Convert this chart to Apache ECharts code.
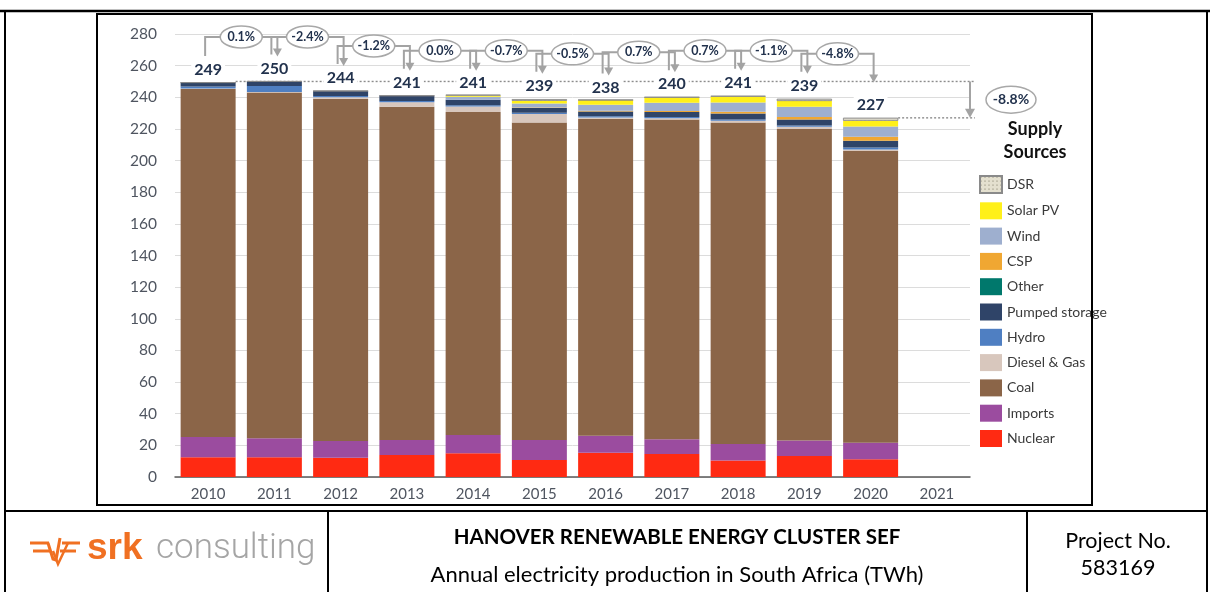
<!DOCTYPE html>
<html>
<head>
<meta charset="utf-8">
<script src="https://cdn.jsdelivr.net/npm/echarts@6/dist/echarts.min.js"></script>
<style>
  html, body { margin: 0; padding: 0; background: #fff; }
  #chart { width: 1210px; height: 592px; }
</style>
</head>
<body>
<div id="chart"></div>
<script>
// data (TWh)
const years = ['2010', '2011', '2012', '2013', '2014', '2015', '2016', '2017', '2018', '2019', '2020', '2021'];
const nuclear = [12.5, 12.5, 12.2, 13.9, 15.0, 10.8, 15.4, 14.6, 10.4, 13.3, 11.2, null];
const imports = [12.8, 12.0, 10.6, 9.5, 11.6, 12.6, 10.6, 9.3, 10.5, 9.7, 10.5, null];
const coal = [220.0, 218.5, 216.2, 210.6, 204.1, 200.6, 200.5, 202.0, 203.2, 196.9, 184.3, null];
const dieselGas = [0.3, 0.4, 1.0, 2.8, 3.5, 5.5, 0.8, 0.8, 1.0, 1.5, 1.0, null];
const hydro = [1.2, 3.8, 0.8, 0.8, 0.8, 0.7, 0.7, 0.8, 0.8, 0.8, 1.2, null];
const pumpedStorage = [2.5, 2.8, 3.2, 3.4, 3.4, 3.0, 3.0, 3.2, 3.8, 3.8, 4.4, null];
const other = [0, 0, 0, 0, 0, 0, 0, 0, 0, 0, 0, null];
const csp = [0, 0, 0, 0, 0, 0.3, 0.5, 0.6, 1.2, 1.5, 2.5, null];
const wind = [0, 0, 0, 0, 2.0, 2.5, 3.8, 5.2, 5.8, 6.5, 6.5, null];
const solarPV = [0, 0, 0, 0, 0.8, 1.8, 3.0, 3.5, 3.8, 3.7, 3.6, null];
const dsr = [0, 0, 0, 0, 0.3, 1.0, 0, 0, 0.3, 1.3, 1.8, null];
const totals = [249, 250, 244, 241, 241, 239, 238, 240, 241, 239, 227, null];
const changes = ['0.1%', '-2.4%', '-1.2%', '0.0%', '-0.7%', '-0.5%', '0.7%', '0.7%', '-1.1%', '-4.8%'];
const overallChange = '-8.8%';

const FONT = 'Lato, "Open Sans", sans-serif';
const NAVY = '#22324d';
const GREY_LINE = '#a3a3a3';

// stacked bottom → top
const sources = [
    { name: 'Nuclear', data: nuclear, color: '#ff2a12' },
    { name: 'Imports', data: imports, color: '#9b4c9f' },
    { name: 'Coal', data: coal, color: '#8b6548' },
    { name: 'Diesel & Gas', data: dieselGas, color: '#d8c7bd' },
    { name: 'Hydro', data: hydro, color: '#4f7fc2' },
    { name: 'Pumped storage', data: pumpedStorage, color: '#2f4468' },
    { name: 'Other', data: other, color: '#00786c' },
    { name: 'CSP', data: csp, color: '#f0a732' },
    { name: 'Wind', data: wind, color: '#9eafcf' },
    { name: 'Solar PV', data: solarPV, color: '#fff01a' },
    { name: 'DSR', data: dsr, color: '#e4e0cf' },
];

const chart = echarts.init(document.getElementById('chart'));

const series = sources.map(s => {
    const item = {
        name: s.name,
        type: 'bar',
        stack: 'supply',
        barCategoryGap: '17%',
        data: s.data,
        itemStyle: { color: s.color },
        emphasis: { disabled: true },
    };
    if (s.name === 'DSR') {
        item.itemStyle.borderColor = '#8a8a8a';
        item.itemStyle.borderWidth = 0.6;
        item.itemStyle.decal = {
            symbol: 'circle', symbolSize: 0.6, color: '#6f6a55',
            dashArrayX: [2, 2], dashArrayY: [2, 2]
        };
    }
    return item;
});

// invisible overlay that carries the total labels
series.push({
    name: 'Total',
    type: 'bar',
    barGap: '-100%',
    barCategoryGap: '17%',
    data: totals,
    itemStyle: { color: 'rgba(0,0,0,0)' },
    emphasis: { disabled: true },
    z: 5,
    label: {
        show: true,
        position: 'top',
        distance: 5,
        color: NAVY,
        fontFamily: FONT,
        fontWeight: 'bold',
        fontSize: 16,
        backgroundColor: '#fff',
        padding: [0, 3],
    },
});

const option = {
    animation: false,
    textStyle: { fontFamily: FONT },
    title: {
        text: 'Supply\nSources',
        left: 1030,
        top: 113,
        textAlign: 'center',
        textStyle: { fontFamily: FONT, fontWeight: 'bold', fontSize: 18, lineHeight: 23, color: '#111' },
    },
    legend: {
        orient: 'vertical',
        left: 974,
        top: 170,
        icon: 'rect',
        itemWidth: 22,
        itemHeight: 17,
        itemGap: 8.3,
        data: sources.map(s => s.name).reverse(),
        textStyle: { fontFamily: FONT, fontSize: 14, color: '#3a3a3a' },
        selectedMode: false,
    },
    grid: { left: 175, right: 240, top: 34, bottom: 115, containLabel: false },
    xAxis: {
        type: 'category',
        data: years,
        axisTick: { show: false },
        axisLine: { lineStyle: { color: '#595959', width: 1.5 } },
        axisLabel: { color: '#4f5560', fontSize: 15, fontFamily: FONT, margin: 10 },
    },
    yAxis: {
        type: 'value',
        min: 0,
        max: 280,
        interval: 20,
        axisLabel: { color: '#4f5560', fontSize: 15.5, fontFamily: FONT, margin: 18 },
        splitLine: { lineStyle: { color: '#dcdcdc', width: 1 } },
    },
    series: series,
};

chart.setOption(option);

// annotations: change connectors, dotted reference lines, frame and footer
function buildGraphics() {
    const px = (i, v) => chart.convertToPixel({ xAxisIndex: 0, yAxisIndex: 0 }, [i, v]);
    const g = [];
    const labelTop = i => px(i, totals[i])[1] - 21;
    const maxTotal = Math.max(...totals.filter(v => v != null));
    const last = totals.filter(v => v != null).length - 1;
    const yMax = px(0, maxTotal)[1];
    const yLast = px(last, totals[last])[1];
    const half = 27.5;
    const refRight = 975;

    // dotted reference lines
    g.push({ type: 'line', z: 1, shape: { x1: px(0, 0)[0] + half, y1: yMax, x2: refRight, y2: yMax },
        style: { stroke: '#8c8c8c', lineWidth: 1.4, lineDash: [2, 2] } });
    g.push({ type: 'line', z: 1, shape: { x1: px(last, 0)[0] + half, y1: yLast, x2: refRight, y2: yLast },
        style: { stroke: '#8c8c8c', lineWidth: 1.4, lineDash: [2, 2] } });

    for (let i = 0; i < changes.length; i++) {
        const xs = px(i, 0)[0] - 3;
        const xe = px(i + 1, 0)[0] + 3;
        const lineY = Math.max(37, Math.min(labelTop(i), labelTop(i + 1)) - 24);
        const startBottom = labelTop(i) - 6;
        const arrowEnd = Math.min(labelTop(i + 1) - 4, yMax + 1);
        const cx = (xs + xe) / 2;
        g.push({ type: 'polyline', z: 20, shape: { points: [[xs, startBottom], [xs, lineY], [xe, lineY], [xe, arrowEnd - 6]] },
            style: { stroke: GREY_LINE, lineWidth: 2, fill: null } });
        g.push({ type: 'polygon', z: 20, shape: { points: [[xe - 4.5, arrowEnd - 8], [xe + 4.5, arrowEnd - 8], [xe, arrowEnd]] },
            style: { fill: GREY_LINE } });
        g.push({ type: 'ellipse', z: 21, shape: { cx: cx, cy: lineY, rx: 21, ry: 11 },
            style: { fill: '#fff', stroke: '#a8a8a8', lineWidth: 1.5 } });
        g.push({ type: 'text', z: 22, x: cx, y: lineY,
            style: { text: changes[i], fill: NAVY, font: 'bold 12.5px ' + FONT, textAlign: 'center', textVerticalAlign: 'middle' } });
    }

    // overall change arrow
    const ax = 970;
    g.push({ type: 'line', z: 20, shape: { x1: ax, y1: yMax, x2: ax, y2: yLast - 7 },
        style: { stroke: GREY_LINE, lineWidth: 2 } });
    g.push({ type: 'polygon', z: 20, shape: { points: [[ax - 5, yLast - 9], [ax + 5, yLast - 9], [ax, yLast]] },
        style: { fill: GREY_LINE } });
    g.push({ type: 'ellipse', z: 21, shape: { cx: 1011, cy: (yMax + yLast) / 2, rx: 25, ry: 13.5 },
        style: { fill: '#fff', stroke: '#a8a8a8', lineWidth: 1.5 } });
    g.push({ type: 'text', z: 22, x: 1011, y: (yMax + yLast) / 2,
        style: { text: overallChange, fill: NAVY, font: 'bold 14px ' + FONT, textAlign: 'center', textVerticalAlign: 'middle' } });

    // page frame
    const frame = { stroke: '#000', lineWidth: 2, fill: null };
    g.push({ type: 'rect', z: 30, shape: { x: 97, y: 14, width: 995, height: 491 }, style: frame });
    g.push({ type: 'line', z: 30, shape: { x1: 0, y1: 11, x2: 1210, y2: 11 }, style: { stroke: '#000', lineWidth: 2.5 } });
    g.push({ type: 'line', z: 30, shape: { x1: 5, y1: 11, x2: 5, y2: 592 }, style: frame });
    g.push({ type: 'line', z: 30, shape: { x1: 1207, y1: 11, x2: 1207, y2: 592 }, style: frame });
    g.push({ type: 'line', z: 30, shape: { x1: 5, y1: 511, x2: 1207, y2: 511 }, style: frame });
    g.push({ type: 'line', z: 30, shape: { x1: 328, y1: 511, x2: 328, y2: 592 }, style: frame });
    g.push({ type: 'line', z: 30, shape: { x1: 1027, y1: 511, x2: 1027, y2: 592 }, style: frame });

    // footer texts
    g.push({ type: 'text', z: 30, x: 677, y: 537,
        style: { text: 'HANOVER RENEWABLE ENERGY CLUSTER SEF', fill: '#000', font: 'bold 20.5px ' + FONT, textAlign: 'center', textVerticalAlign: 'middle' } });
    g.push({ type: 'text', z: 30, x: 677, y: 575,
        style: { text: 'Annual electricity production in South Africa (TWh)', fill: '#000', font: '22px ' + FONT, textAlign: 'center', textVerticalAlign: 'middle' } });
    g.push({ type: 'text', z: 30, x: 1118, y: 541,
        style: { text: 'Project No.', fill: '#000', font: '21.5px ' + FONT, textAlign: 'center', textVerticalAlign: 'middle' } });
    g.push({ type: 'text', z: 30, x: 1118, y: 568,
        style: { text: '583169', fill: '#000', font: '21.5px ' + FONT, textAlign: 'center', textVerticalAlign: 'middle' } });

    // srk logo
    const orange = '#f07022';
    g.push({ type: 'polyline', z: 30, shape: { points: [[30, 543], [49, 543]] }, style: { stroke: orange, lineWidth: 3 } });
    g.push({ type: 'polyline', z: 30, shape: { points: [[33, 551], [50, 551]] }, style: { stroke: orange, lineWidth: 3 } });
    g.push({ type: 'polyline', z: 30, shape: { points: [[48, 543], [53, 559], [56, 560], [60, 538]] }, style: { stroke: orange, lineWidth: 3, fill: null } });
    g.push({ type: 'polyline', z: 30, shape: { points: [[53, 551], [58, 564], [68, 543]] }, style: { stroke: orange, lineWidth: 2.5, fill: null } });
    g.push({ type: 'polyline', z: 30, shape: { points: [[62, 543], [80, 543]] }, style: { stroke: orange, lineWidth: 3 } });
    g.push({ type: 'polyline', z: 30, shape: { points: [[60, 551], [76, 551]] }, style: { stroke: orange, lineWidth: 3 } });
    g.push({ type: 'text', z: 30, x: 87, y: 549,
        style: { text: 'srk', fill: orange, font: 'bold 37px "Liberation Sans", Arial, sans-serif', textVerticalAlign: 'middle' } });
    g.push({ type: 'text', z: 30, x: 156, y: 549,
        style: { text: 'consulting', fill: '#a5a5a5', font: '300 35px Roboto, sans-serif', textVerticalAlign: 'middle' } });

    return g;
}

chart.setOption({ graphic: buildGraphics() });
</script>
</body>
</html>
